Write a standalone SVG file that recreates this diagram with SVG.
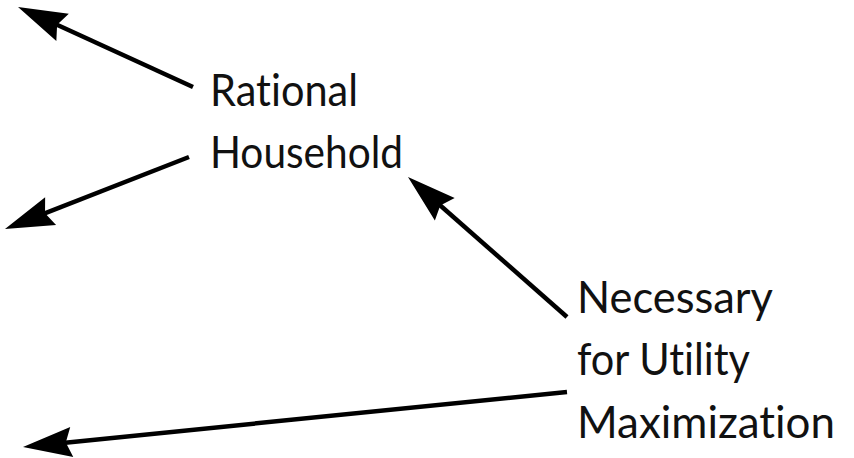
<svg xmlns="http://www.w3.org/2000/svg" width="854" height="458" viewBox="0 0 854 458">
<defs>
<marker id="ah" markerUnits="userSpaceOnUse" viewBox="-32 -17 54 34" refX="0" refY="0" markerWidth="54" markerHeight="34" orient="auto">
<path d="M20,0 L-29,-15 L-23,0 L-29,15 Z" fill="#000"/>
</marker>
<style>
.t{font-family:"Lato","Liberation Sans",sans-serif;font-size:44px;fill:#111;font-variant-ligatures:none;font-feature-settings:"liga" 0,"clig" 0;}
.c{stroke:#000;stroke-width:4.5;fill:none;marker-end:url(#ah);}
</style>
</defs>
<rect width="854" height="458" fill="#fff"/>
<g id="connectors">
<line class="c" x1="193" y1="87" x2="36.2" y2="15.3"/>
<line class="c" x1="189" y1="157" x2="23.6" y2="221.7"/>
<line class="c" x1="567" y1="317" x2="423" y2="190.2"/>
<line class="c" x1="567" y1="392" x2="42.9" y2="444.9"/>
</g>
<g id="rational-household">
<text class="t" x="210" y="106" textLength="148" lengthAdjust="spacingAndGlyphs">Rational</text>
<text class="t" x="210" y="168" textLength="193" lengthAdjust="spacingAndGlyphs">Household</text>
</g>
<g id="necessary">
<text class="t" x="577" y="313" textLength="196" lengthAdjust="spacingAndGlyphs">Necessary</text>
<text class="t" x="577" y="375" textLength="173" lengthAdjust="spacingAndGlyphs">for Utility</text>
<text class="t" x="577" y="438" textLength="258" lengthAdjust="spacingAndGlyphs">Maximization</text>
</g>
</svg>
